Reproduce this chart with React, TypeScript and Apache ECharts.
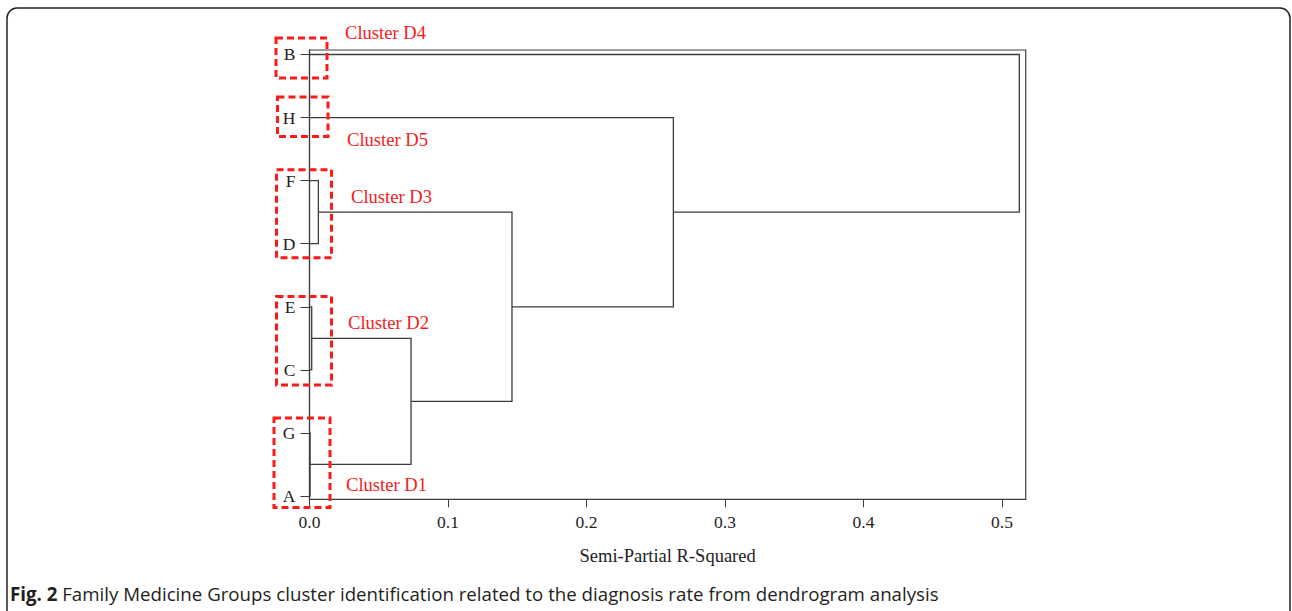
import React, { useEffect, useRef } from "react";
import * as echarts from "echarts";

// Leaves, bottom to top (y position 1..8)
const leaves = ["A", "G", "C", "E", "D", "F", "H", "B"];
// Merges (agglomeration order)
const mergeIds = ["n1", "n2", "n3", "n4", "n5", "n6", "n7"];
const mergeLeft = ["G", "E", "F", "n1", "n3", "H", "B"];
const mergeRight = ["A", "C", "D", "n2", "n4", "n5", "n6"];
const mergeHeights = [0.0004, 0.0016, 0.0064, 0.0733, 0.1462, 0.2627, 0.5125];
const xTicks = [0, 0.1, 0.2, 0.3, 0.4, 0.5];

const clusterLabels = ["Cluster D4", "Cluster D5", "Cluster D3", "Cluster D2", "Cluster D1"];

export default function App() {
  const ref = useRef<HTMLDivElement>(null);
  useEffect(() => {
    if (!ref.current) return;
    const chart = echarts.init(ref.current, undefined, { renderer: "svg" });

    const pos: Record<string, number> = {};
    const hgt: Record<string, number> = {};
    leaves.forEach((l, i) => {
      pos[l] = i + 1;
      hgt[l] = 0;
    });
    const segs: any[] = [];
    mergeIds.forEach((id, i) => {
      const a = mergeLeft[i];
      const b = mergeRight[i];
      const h = mergeHeights[i];
      segs.push({
        coords: [
          [hgt[a], pos[a]],
          [h, pos[a]],
          [h, pos[b]],
          [hgt[b], pos[b]],
        ],
      });
      pos[id] = (pos[a] + pos[b]) / 2;
      hgt[id] = h;
    });

    const red = "#f41c1c";
    const serif = "'Liberation Serif', 'Times New Roman', serif";
    const boxes = [
      [276, 38, 51, 40],
      [277.5, 97, 50.5, 39.5],
      [276.5, 169.8, 55, 88],
      [276.5, 296.5, 55, 88.5],
      [274, 418, 56, 89.5],
    ];
    const labelPos = [
      [345, 32.5],
      [347, 139],
      [351, 196],
      [348, 322],
      [346, 484.5],
    ];

    const graphic: any[] = [
      {
        type: "rect",
        shape: { x: 7, y: 8, width: 1283, height: 640, r: 10 },
        style: { fill: "none", stroke: "#222", lineWidth: 1.5 },
        silent: true,
        z: 0,
      },
      ...boxes.map((b) => ({
        type: "rect",
        shape: { x: b[0], y: b[1], width: b[2], height: b[3] },
        style: { fill: "none", stroke: "#ff1a1a", lineWidth: 3, lineDash: [7, 4] },
        silent: true,
        z: 10,
      })),
      ...clusterLabels.map((t, i) => ({
        type: "text",
        x: labelPos[i][0],
        y: labelPos[i][1],
        style: {
          text: t,
          fill: red,
          font: `18.6px ${serif}`,
          textAlign: "left",
          textVerticalAlign: "middle",
        },
        silent: true,
        z: 10,
      })),
      {
        type: "text",
        x: 10,
        y: 593,
        style: {
          text: "{b|Fig. 2} Family Medicine Groups cluster identification related to the diagnosis rate from dendrogram analysis",
          fill: "#231f20",
          fontFamily: "'Open Sans', sans-serif",
          fontSize: 18.7,
          textAlign: "left",
          textVerticalAlign: "middle",
          rich: {
            b: { fontWeight: "bold", fontSize: 18.7, fontFamily: "'Open Sans', sans-serif", fill: "#231f20" },
          },
        },
        silent: true,
      },
    ];

    chart.setOption({
      animation: false,
      grid: {
        left: 309.5,
        top: 50,
        width: 716.2,
        height: 449.3,
        show: true,
        borderColor: "#3c3c3c",
        borderWidth: 1.2,
        backgroundColor: "transparent",
      },
      xAxis: {
        type: "value",
        min: 0,
        max: 0.5171,
        name: "Semi-Partial R-Squared",
        nameLocation: "middle",
        nameGap: 47,
        nameTextStyle: { fontFamily: serif, fontSize: 18.5, color: "#222" },
        axisLine: { show: true, lineStyle: { color: "#3c3c3c", width: 1.2 } },
        axisTick: { show: true, length: 8, customValues: xTicks, lineStyle: { color: "#3c3c3c" } },
        axisLabel: {
          customValues: xTicks,
          formatter: (v: number) => v.toFixed(1),
          fontFamily: serif,
          fontSize: 17.5,
          color: "#222",
          margin: 14,
        },
        splitLine: { show: false },
      },
      yAxis: {
        type: "value",
        min: 0.9477,
        max: 8.0713,
        axisLine: { show: true, lineStyle: { color: "#3c3c3c", width: 1.2 } },
        axisTick: {
          show: true,
          length: 9,
          customValues: leaves.map((_, i) => i + 1),
          lineStyle: { color: "#3c3c3c" },
        },
        axisLabel: {
          customValues: leaves.map((_, i) => i + 1),
          formatter: (v: number) => leaves[Math.round(v) - 1] ?? "",
          fontFamily: serif,
          fontSize: 17.5,
          color: "#222",
          margin: 14,
        },
        splitLine: { show: false },
      },
      series: [
        {
          type: "lines",
          coordinateSystem: "cartesian2d",
          polyline: true,
          silent: true,
          data: segs,
          lineStyle: { color: "#3c3c3c", width: 1.3, opacity: 1 },
        },
      ],
      graphic,
    });
    return () => chart.dispose();
  }, []);
  return (
    <div
      ref={ref}
      style={{ position: "fixed", left: 0, top: 0, width: 1292, height: 611, background: "#fff" }}
    />
  );
}
